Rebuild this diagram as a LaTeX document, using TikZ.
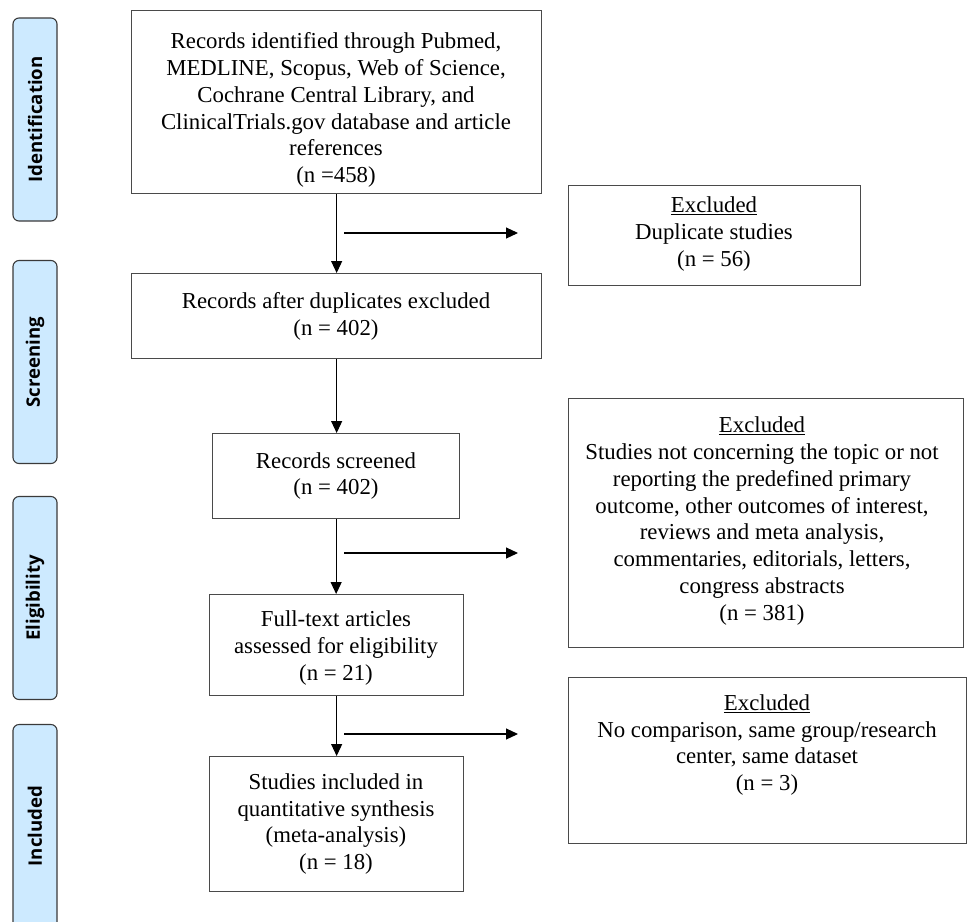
\documentclass[tikz,border=0pt]{standalone}
\usepackage{fontspec}
\setmainfont{Liberation Serif}
\newfontfamily\sidefont{Open Sans}
\usetikzlibrary{arrows.meta}
\definecolor{sideblue}{HTML}{CDEAFF}
\definecolor{sideline}{HTML}{3A3A3A}
\definecolor{boxline}{HTML}{4A4A4A}
\begin{document}
\begin{tikzpicture}[x=1pt,y=-1pt,
  box/.style={draw=boxline, line width=1.3pt, anchor=north west, inner sep=0pt},
  txt/.style={align=center, inner sep=0pt, font=\fontsize{22.8}{26.9}\selectfont},
  sidebar/.style={draw=sideline, line width=1.1pt, fill=sideblue, rounded corners=6pt,
    rotate=90, minimum width=203pt, minimum height=44pt, inner sep=0pt,
    font=\sidefont\bfseries\fontsize{18.6}{20}\selectfont},
  arr/.style={-{Triangle[length=12pt,width=11pt]}, line width=1.1pt, draw=black}
]
\useasboundingbox (0,0) rectangle (968,921);
\clip (0,0) rectangle (968,921);

% side bars
\node[sidebar] (s1) at (35,119.5) {Identification};
\node[sidebar] (s2) at (35,362) {Screening};
\node[sidebar] (s3) at (35,598) {Eligibility};
\node[sidebar] (s4) at (35,826) {Included};

% main boxes
\node[box, minimum width=410pt, minimum height=183pt] (b1) at (131,10) {};
\node[box, minimum width=410pt, minimum height=85pt] (b2) at (131,273) {};
\node[box, minimum width=247pt, minimum height=85pt] (b3) at (212,433) {};
\node[box, minimum width=254pt, minimum height=101pt] (b4) at (209,594) {};
\node[box, minimum width=254pt, minimum height=135pt] (b5) at (209,756) {};

% excluded boxes
\node[box, minimum width=292pt, minimum height=100pt] (e1) at (568,185) {};
\node[box, minimum width=395pt, minimum height=249pt] (e2) at (568,398) {};
\node[box, minimum width=398pt, minimum height=166pt] (e3) at (568,677) {};

% texts
\node[txt] (t1) at (336,110) {Records identified through Pubmed,\\MEDLINE, Scopus, Web of Science,\\Cochrane Central Library, and\\ClinicalTrials.gov database and article\\references\\(n =458)};
\node[txt] (t2) at (336,316) {Records after duplicates excluded\\(n = 402)};
\node[txt] (t3) at (336,476) {Records screened\\(n = 402)};
\node[txt] (t4) at (336,648) {Full-text articles\\assessed for eligibility\\(n = 21)};
\node[txt] (t5) at (336,824) {Studies included in\\quantitative synthesis\\(meta-analysis)\\(n = 18)};

\node[txt] (u1) at (714,234) {\underline{Excluded}\\Duplicate studies\\(n = 56)};
\node[txt] (u2) at (762,521) {\underline{Excluded}\\Studies not concerning the topic or not\\reporting the predefined primary\\outcome, other outcomes of interest,\\reviews and meta analysis,\\commentaries, editorials, letters,\\congress abstracts\\(n = 381)};
\node[txt] (u3) at (767,745) {\underline{Excluded}\\No comparison, same group/research\\center, same dataset\\(n = 3)};

% vertical arrows
\draw[arr] (b1.south) -- (b2.north);
\draw[arr] (b2.south) -- (b2.south |- b3.north);
\draw[arr] (b3.south) -- (b3.south |- b4.north);
\draw[arr] (b4.south) -- (b4.south |- b5.north);

% side arrows
\coordinate (h1a) at (344,233);
\coordinate (h1b) at (518,233);
\coordinate (h2a) at (344,553);
\coordinate (h2b) at (518,553);
\coordinate (h3a) at (344,734);
\coordinate (h3b) at (518,734);
\draw[arr] (h1a) -- (h1b);
\draw[arr] (h2a) -- (h2b);
\draw[arr] (h3a) -- (h3b);
\end{tikzpicture}
\end{document}
